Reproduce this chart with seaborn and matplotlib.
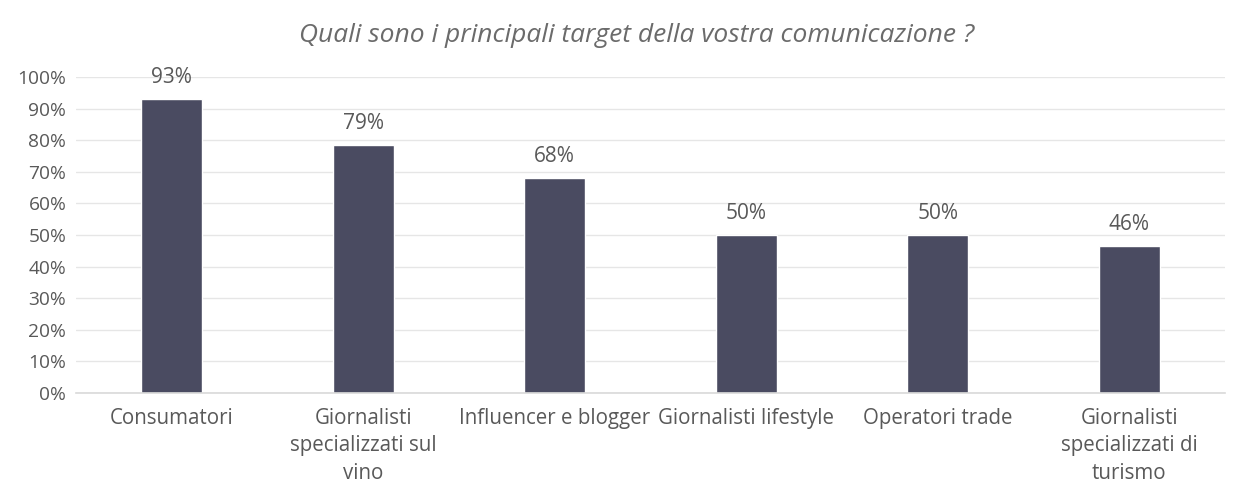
import matplotlib
matplotlib.use("Agg")
import matplotlib.pyplot as plt
import seaborn as sns
import pandas as pd
from matplotlib.ticker import PercentFormatter

categories = ["Consumatori", "Giornalisti\nspecializzati sul\nvino", "Influencer e blogger",
              "Giornalisti lifestyle", "Operatori trade", "Giornalisti\nspecializzati di\nturismo"]
values = [0.929, 0.786, 0.679, 0.50, 0.50, 0.464]
labels = ["93%", "79%", "68%", "50%", "50%", "46%"]
title = "Quali sono i principali target della vostra comunicazione ?"

sns.set_theme(style="white")
plt.rcParams['font.family'] = ['Open Sans', 'DejaVu Sans']

df = pd.DataFrame({"cat": categories, "val": values})
fig = plt.figure(figsize=(12.4, 4.92), dpi=100)
ax = fig.add_axes([0.0613, 0.201, 0.9267, 0.6425])
sns.barplot(data=df, x="cat", y="val", color="#4a4b61", width=0.32, ax=ax, saturation=1)
ax.set_ylim(0, 1)
ax.set_xlim(-0.5, 5.5)
ax.set_yticks([i/10 for i in range(11)])
ax.yaxis.set_major_formatter(PercentFormatter(1.0, decimals=0))
ax.grid(axis="y", color="#e6e6e6", linewidth=1)
ax.set_axisbelow(True)
for s in ["top", "right", "left"]:
    ax.spines[s].set_visible(False)
ax.spines["bottom"].set_color("#d9d9d9")
ax.spines["bottom"].set_linewidth(1.2)
ax.set_xlabel("")
ax.set_ylabel("")
ax.tick_params(axis="both", length=0, colors="#595959")
ax.tick_params(axis="x", pad=11, labelsize=14.8)
ax.tick_params(axis="y", pad=7, labelsize=13.8)
for t in ax.get_xticklabels():
    t.set_linespacing(1.38)
    t.set_color("#595959")
    t.set_va("top")
for i, (v, l) in enumerate(zip(values, labels)):
    ax.annotate(l, (i, v), xytext=(0, 8), textcoords="offset points", ha="center",
                va="bottom", fontsize=15, color="#595959")
fig.text(0.513, 0.928, title, ha="center", va="center", fontsize=19,
         style="italic", color="#6b6b6b")
fig.savefig("out.png", dpi=100)
